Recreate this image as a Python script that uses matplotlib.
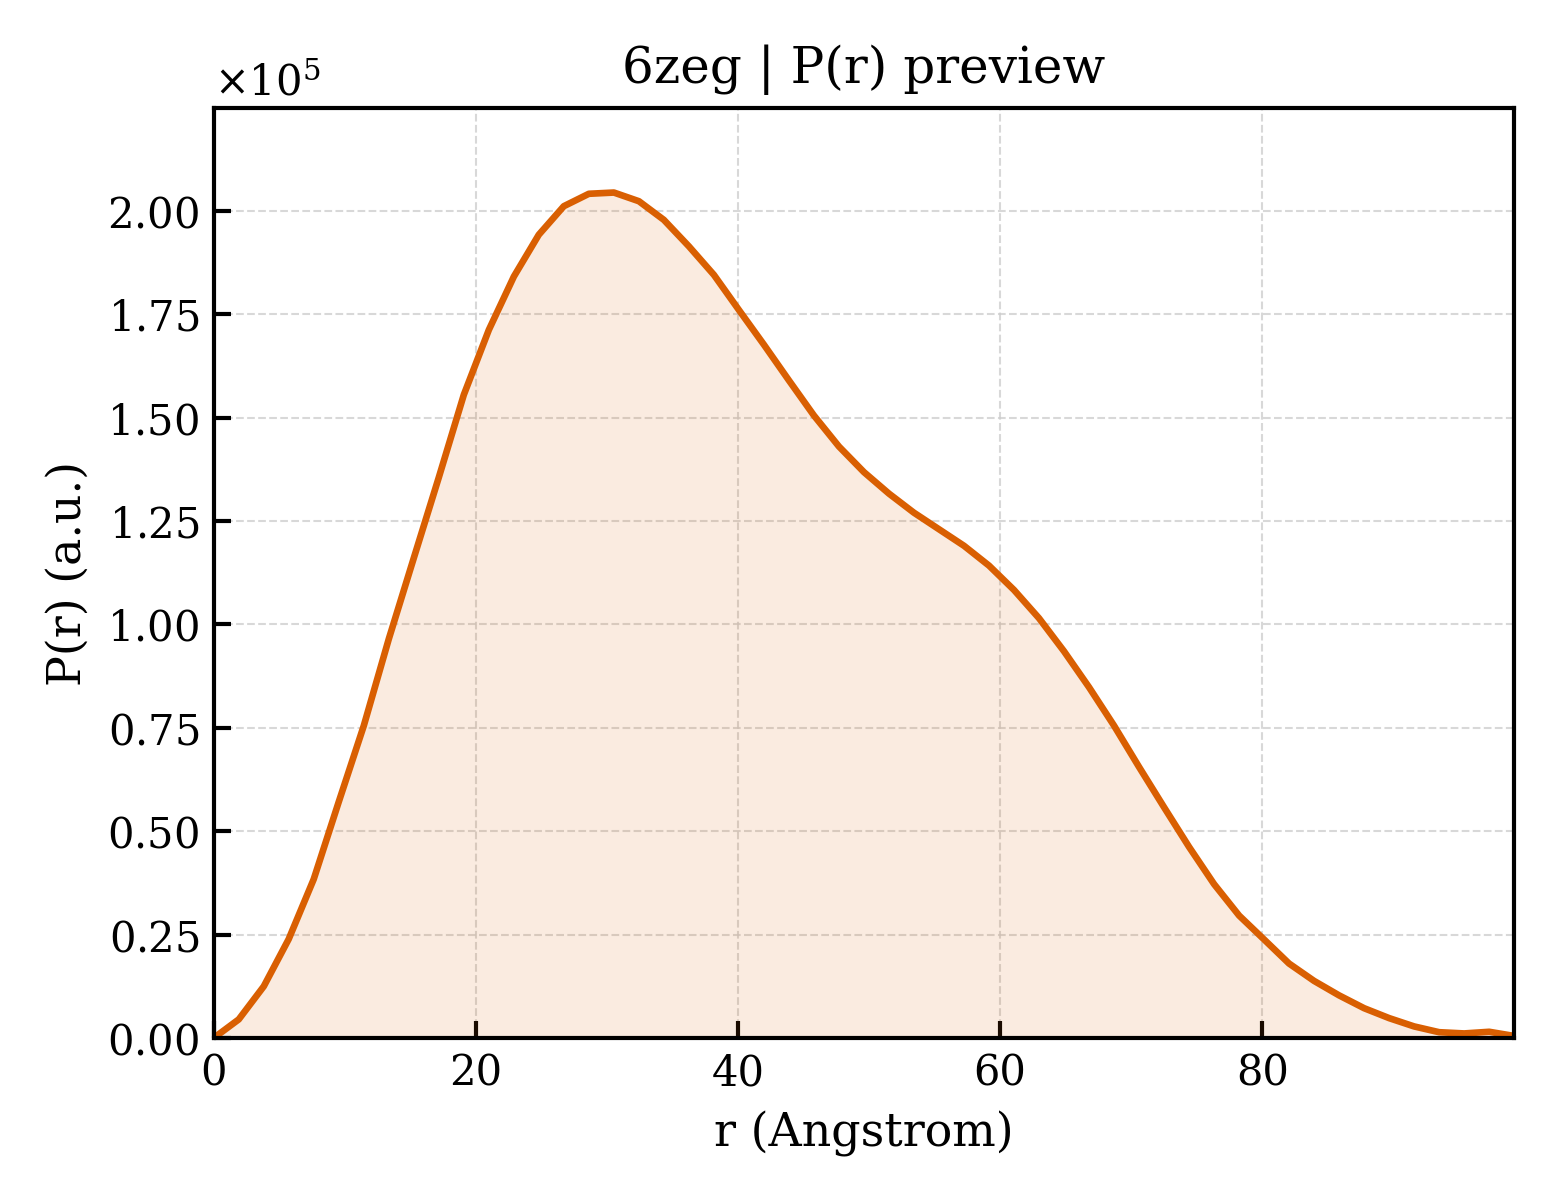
import numpy as np
import matplotlib
matplotlib.use("Agg")
import matplotlib.pyplot as plt

# distance grid (Angstrom) and P(r) values in units of 1e5
r_vals = [0.0, 1.91, 3.82, 5.72, 7.63, 9.54, 11.45, 13.36, 15.26, 17.17,
          19.08, 20.99, 22.90, 24.80, 26.71, 28.62, 30.53, 32.44, 34.34, 36.25,
          38.16, 40.07, 41.98, 43.88, 45.79, 47.70, 49.61, 51.52, 53.42, 55.33,
          57.24, 59.15, 61.06, 62.96, 64.87, 66.78, 68.69, 70.60, 72.50, 74.41,
          76.32, 78.23, 80.14, 82.04, 83.95, 85.86, 87.77, 89.68, 91.58, 93.49,
          95.40, 97.31, 99.20]
pr_vals = [0.000, 0.045, 0.125, 0.239, 0.384, 0.571, 0.755, 0.965, 1.160, 1.355,
           1.555, 1.712, 1.841, 1.942, 2.011, 2.041, 2.044, 2.023, 1.978, 1.914,
           1.845, 1.760, 1.676, 1.590, 1.505, 1.430, 1.368, 1.316, 1.270, 1.230,
           1.190, 1.142, 1.083, 1.015, 0.935, 0.848, 0.755, 0.655, 0.558, 0.462,
           0.372, 0.296, 0.238, 0.180, 0.138, 0.103, 0.072, 0.048, 0.028, 0.014,
           0.011, 0.015, 0.005]

r = np.array(r_vals)
pr = np.array(pr_vals) * 1e5

plt.rcParams['font.family'] = 'DejaVu Serif'
plt.rcParams['mathtext.fontset'] = 'dejavuserif'

color = "#d95f02"

fig, ax = plt.subplots(figsize=(5.2, 4.0), dpi=300)
fig.subplots_adjust(left=0.137, right=0.9705, bottom=0.135, top=0.91)

ax.plot(r, pr, color=color, lw=1.6)
ax.fill_between(r, pr, 0, color=color, alpha=0.12, lw=0)

ax.set_xlim(0, r[-1])
ax.set_ylim(0, pr.max() * 1.1)
ax.set_yticks(np.arange(0, 2.01e5, 0.25e5))
ax.set_xticks([0, 20, 40, 60, 80])

ax.ticklabel_format(axis='y', style='sci', scilimits=(0, 0), useMathText=True)
ax.yaxis.get_offset_text().set_fontsize(10)

ax.tick_params(direction='in', length=4, width=1.0, labelsize=10)
for sp in ax.spines.values():
    sp.set_linewidth(1.0)

ax.grid(True, ls='--', lw=0.5, color='#cccccc', alpha=0.75)
ax.set_axisbelow(True)

ax.set_xlabel("r (Angstrom)", fontsize=11)
ax.set_ylabel("P(r) (a.u.)", fontsize=11)
ax.set_title("6zeg | P(r) preview", fontsize=12)

fig.savefig("out.png", dpi=300)
